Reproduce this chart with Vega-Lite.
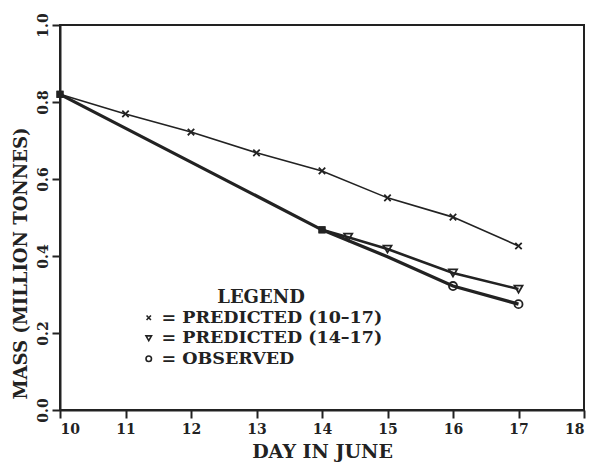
{
  "$schema": "https://vega.github.io/schema/vega-lite/v6.json",
  "width": 524,
  "height": 385,
  "autosize": {"type": "none"},
  "padding": {"left": 60, "top": 25, "right": 7, "bottom": 56},
  "background": "white",
  "config": {
    "view": {"stroke": "#222", "strokeWidth": 2},
    "font": "DejaVu Serif",
    "axis": {
      "grid": false,
      "domainColor": "#222",
      "domainWidth": 2,
      "tickColor": "#222",
      "tickWidth": 2,
      "tickSize": 8,
      "labelFont": "DejaVu Serif",
      "labelFontWeight": "bold",
      "labelFontSize": 14,
      "labelColor": "#222",
      "titleFont": "DejaVu Serif",
      "titleFontWeight": "bold",
      "titleFontSize": 19,
      "titleColor": "#222"
    }
  },
  "data": {
    "values": [
      {"series": "PREDICTED (10–17)", "day": 10, "mass": 0.82, "pt": "sq"},
      {"series": "PREDICTED (10–17)", "day": 11, "mass": 0.769, "pt": "yes"},
      {"series": "PREDICTED (10–17)", "day": 12, "mass": 0.722, "pt": "yes"},
      {"series": "PREDICTED (10–17)", "day": 13, "mass": 0.668, "pt": "yes"},
      {"series": "PREDICTED (10–17)", "day": 14, "mass": 0.621, "pt": "yes"},
      {"series": "PREDICTED (10–17)", "day": 15, "mass": 0.551, "pt": "yes"},
      {"series": "PREDICTED (10–17)", "day": 16, "mass": 0.501, "pt": "yes"},
      {"series": "PREDICTED (10–17)", "day": 17, "mass": 0.426, "pt": "yes"},
      {"series": "PREDICTED (14–17)", "day": 14, "mass": 0.468, "pt": "sq"},
      {"series": "PREDICTED (14–17)", "day": 14.4, "mass": 0.449, "pt": "yes"},
      {"series": "PREDICTED (14–17)", "day": 15, "mass": 0.418, "pt": "yes"},
      {"series": "PREDICTED (14–17)", "day": 16, "mass": 0.356, "pt": "yes"},
      {"series": "PREDICTED (14–17)", "day": 17, "mass": 0.314, "pt": "yes"},
      {"series": "OBSERVED", "day": 10, "mass": 0.82, "pt": "sq"},
      {"series": "OBSERVED", "day": 14, "mass": 0.468, "pt": "sq"},
      {"series": "OBSERVED", "day": 15, "mass": 0.398, "pt": "no"},
      {"series": "OBSERVED", "day": 16, "mass": 0.322, "pt": "yes"},
      {"series": "OBSERVED", "day": 17, "mass": 0.275, "pt": "yes"}
    ]
  },
  "encoding": {
    "x": {
      "field": "day",
      "type": "quantitative",
      "scale": {"domain": [10, 18], "nice": false},
      "axis": {"values": [10, 11, 12, 13, 14, 15, 16, 17, 18], "title": "DAY IN JUNE", "labelPadding": 4, "titlePadding": 6}
    },
    "y": {
      "field": "mass",
      "type": "quantitative",
      "scale": {"domain": [0, 1], "nice": false},
      "axis": {"values": [0, 0.2, 0.4, 0.6, 0.8, 1.0], "format": ".1f", "labelAngle": -90, "labelAlign": "center", "labelBaseline": "bottom", "labelPadding": 2, "title": "MASS (MILLION TONNES)", "titleFontSize": 18, "titlePadding": 6, "titleY": 238}
    }
  },
  "layer": [
    {
      "transform": [{"filter": "datum.series === 'PREDICTED (10–17)'"}],
      "mark": {"type": "line", "color": "#222", "strokeWidth": 1.6},
      "encoding": {}
    },
    {
      "transform": [{"filter": "datum.series === 'PREDICTED (14–17)'"}],
      "mark": {"type": "line", "color": "#222", "strokeWidth": 2.6},
      "encoding": {}
    },
    {
      "transform": [{"filter": "datum.series === 'OBSERVED'"}],
      "mark": {"type": "line", "color": "#222", "strokeWidth": 3.2},
      "encoding": {}
    },
    {
      "transform": [{"filter": "datum.pt === 'yes'"}],
      "mark": {"type": "point", "filled": false, "stroke": "#222", "strokeWidth": 1.8, "size": 65, "opacity": 1},
      "encoding": {
        "shape": {
          "field": "series",
          "type": "nominal",
          "scale": {"domain": ["PREDICTED (10–17)", "PREDICTED (14–17)", "OBSERVED"], "range": ["M-0.8,-0.8L0.8,0.8M0.8,-0.8L-0.8,0.8", "triangle-down", "circle"]},
          "legend": {
            "title": "LEGEND",
            "orient": "none",
            "legendX": 80,
            "legendY": 264,
            "titleFont": "DejaVu Serif",
            "titleFontWeight": "bold",
            "titleFontSize": 18,
            "titleColor": "#222",
            "titleAnchor": "middle",
            "titlePadding": 2,
            "labelFont": "DejaVu Serif",
            "labelFontWeight": "bold",
            "labelFontSize": 17.5,
            "labelColor": "#222",
            "labelLimit": 400,
            "labelExpr": "'= ' + datum.label",
            "labelOffset": 4,
            "rowPadding": 1.5,
            "symbolSize": 30,
            "symbolStrokeColor": "#222",
            "symbolStrokeWidth": 1.6,
            "symbolFillColor": "transparent"
          }
        }
      }
    },
    {
      "transform": [{"filter": "datum.pt === 'sq'"}],
      "mark": {"type": "point", "shape": "square", "filled": true, "color": "#222", "size": 50, "opacity": 1},
      "encoding": {}
    }
  ]
}
